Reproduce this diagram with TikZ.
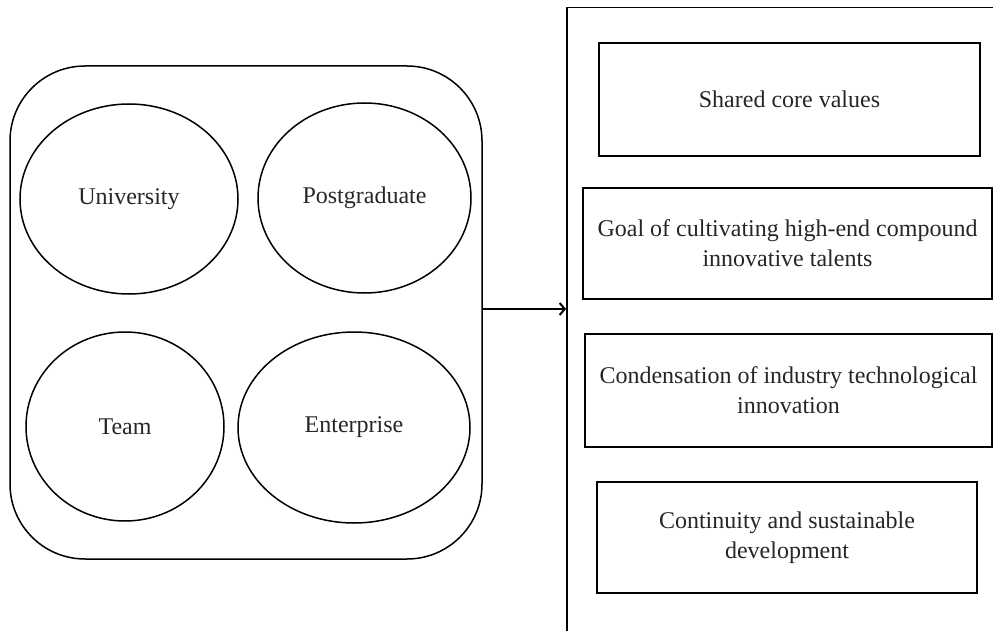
\documentclass[tikz,border=0pt]{standalone}
\usepackage{fontspec}
\setmainfont{Liberation Serif}
\usetikzlibrary{shapes.geometric,arrows.meta}
\tikzset{
  line/.style={draw=black,line width=1.5pt},
  oval/.style={line,ellipse,inner sep=0pt,text=black!85,font=\fontsize{24}{30}\selectfont},
  textbox/.style={line,rectangle,inner sep=0pt,align=center,text=black!85,font=\fontsize{24}{30}\selectfont},
  arrowline/.style={line,line width=2pt,-{Straight Barb[length=5pt,width=12pt]}}
}
\begin{document}
\begin{tikzpicture}[x=1pt,y=-1pt]
\useasboundingbox (0,0) rectangle (993,631);
\clip (0,0) rectangle (993,631);
% outer right frame (open at right and bottom)
\node[line,rectangle,inner sep=0pt,anchor=north west,minimum width=450pt,minimum height=650pt] (outer) at (566,7) {};
% left rounded container
\node[line,rectangle,rounded corners=75pt,inner sep=0pt,minimum width=472pt,minimum height=493pt] (rr) at (246,312.5) {};
% ellipses
\node[oval,minimum width=218pt,minimum height=190pt] (univ) at (129,199) {University};
\node[oval,minimum width=213pt,minimum height=190pt] (post) at (364.5,198) {Postgraduate};
\node[oval,minimum width=198pt,minimum height=189pt] (team) at (125,426.5) {Team};
\node[oval,minimum width=232pt,minimum height=191pt] (ent) at (354,427.5) {Enterprise};
% right boxes
\node[textbox,minimum width=381pt,minimum height=113pt] (b1) at (789.5,99.5) {Shared core values};
\node[textbox,minimum width=409pt,minimum height=111pt] (b2) at (787.5,243.5) {Goal of cultivating high-end compound\\innovative talents};
\node[textbox,minimum width=407pt,minimum height=113pt] (b3) at (788.5,390.5) {Condensation of industry technological\\innovation};
\node[textbox,minimum width=380pt,minimum height=111pt] (b4) at (787,537.5) {Continuity and sustainable\\development};
% arrow
\coordinate (ay) at (0,309);
\draw[arrowline] (rr.east |- ay) -- (outer.west |- ay);
\end{tikzpicture}
\end{document}
